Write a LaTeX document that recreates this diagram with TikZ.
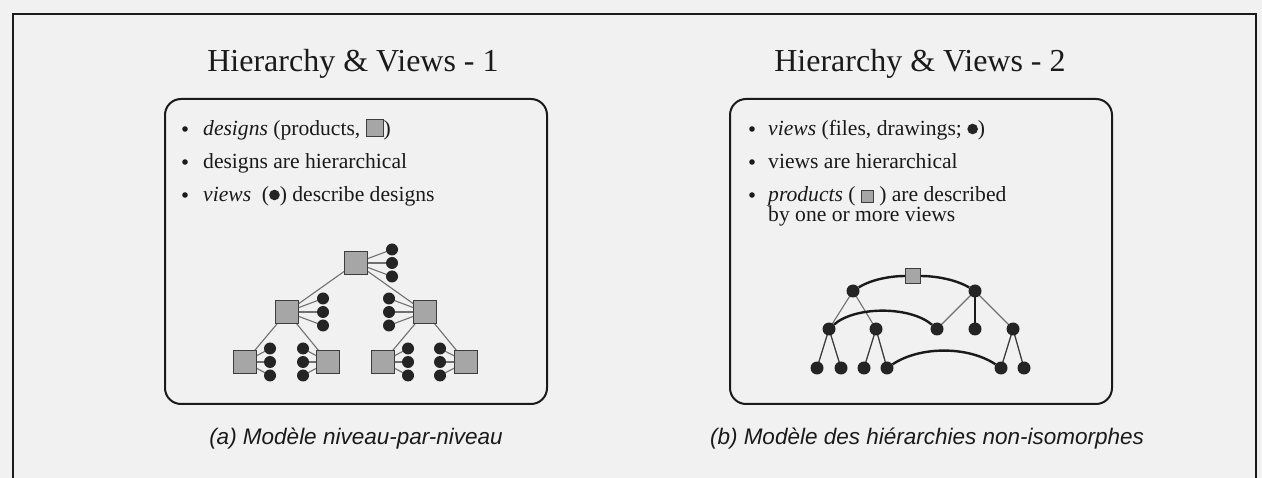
\documentclass[tikz,border=0pt]{standalone}
\usepackage{fontspec}
\setmainfont{Liberation Serif}
\newfontfamily\capfont{Liberation Sans}
\pgfdeclarelayer{paperlayer}
\pgfdeclarelayer{edgelayer}
\pgfsetlayers{paperlayer,edgelayer,main}

\definecolor{paper}{HTML}{F1F1F1}
\definecolor{sqfill}{HTML}{A6A6A6}
\definecolor{sqline}{HTML}{3C3C3C}
\definecolor{dotfill}{HTML}{242424}
\definecolor{edgegray}{HTML}{707070}
\definecolor{ink}{HTML}{1A1A1A}

% inline glyphs used in the bullet texts
\newcommand{\prodmark}[1]{\tikz[baseline=0pt,x=1pt,y=1pt]\draw[sqline,fill=sqfill,line width=0.9pt] (0,0) rectangle (#1,#1);}
\newcommand{\viewmark}{\tikz[baseline=0pt,x=1pt,y=1pt]\fill[dotfill] (0,7) circle (5.3);}

\tikzset{
  frame/.style={draw=ink,line width=2pt},
  panel/.style={draw=ink,line width=2pt,rounded corners=16pt},
  title/.style={font=\fontsize{32}{38}\selectfont,anchor=base,inner sep=0pt,text=ink},
  item/.style={font=\fontsize{21.6}{26}\selectfont,anchor=base west,inner sep=0pt,text=ink},
  bulletdot/.style={circle,fill=ink,minimum size=5.6pt,inner sep=0pt},
  caption/.style={font=\capfont\itshape\fontsize{22.5}{27}\selectfont,anchor=base,inner sep=0pt,text=ink},
  design/.style={rectangle,draw=sqline,fill=sqfill,line width=1pt,minimum size=23pt,inner sep=0pt},
  smalldesign/.style={rectangle,draw=sqline,fill=sqfill,line width=1pt,minimum size=15pt,inner sep=0pt},
  view/.style={circle,fill=dotfill,minimum size=12pt,inner sep=0pt},
  bigview/.style={circle,fill=dotfill,minimum size=13pt,inner sep=0pt},
  link/.style={draw=edgegray,line width=1.1pt},
  darklink/.style={draw=ink!85,line width=1.3pt},
  strong/.style={draw=ink,line width=2pt},
  arcline/.style={draw=ink,line width=2.4pt},
}

\begin{document}
\begin{tikzpicture}[x=1pt,y=-1pt]
\useasboundingbox (0,0) rectangle (1262,478);
\begin{pgfonlayer}{paperlayer}
  \fill[paper] (0,0) rectangle (1262,478);
\end{pgfonlayer}

% outer frame (open at the bottom)
\draw[frame] (13,478) -- (13,14) -- (1256,14) -- (1256,478);

% ---------- left panel ----------
\node[title] (t1) at (353,72) {Hierarchy \& Views - 1};
\draw[panel] (165,99) rectangle (547,404);

\node[bulletdot] (b11) at (185,129) {};
\node[item] (i11) at (203,136) {\textit{designs} (products, \prodmark{17})};
\node[bulletdot] (b12) at (185,162) {};
\node[item] (i12) at (203,169) {designs are hierarchical};
\node[bulletdot] (b13) at (185,195) {};
\node[item] (i13) at (203,202) {\textit{views}\ \ (\viewmark) describe designs};

% design hierarchy with attached views
\node[design] (s0) at (356,263) {};
\node[design] (sl) at (287,312) {};
\node[design] (sr) at (425,312) {};
\node[design] (sa) at (245,362) {};
\node[design] (sb) at (328,362) {};
\node[design] (sc) at (383,362) {};
\node[design] (sd) at (466,362) {};

\foreach \n/\x/\y in {s0/392/263, sl/323/312, sr/389/312, sa/270/362, sb/303/362, sc/408/362, sd/440/362}{
  \node[view] (\n-1) at (\x,\y-13.5) {};
  \node[view] (\n-2) at (\x,\y) {};
  \node[view] (\n-3) at (\x,\y+13.5) {};
}

\begin{pgfonlayer}{edgelayer}
  \foreach \p/\c in {s0/sl, s0/sr, sl/sa, sl/sb, sr/sc, sr/sd}
    \draw[link] (\p.center) -- (\c.center);
  \foreach \n in {s0,sl,sr,sa,sb,sc,sd}
    \foreach \k in {1,2,3}
      \draw[link] (\n.center) -- (\n-\k.center);
\end{pgfonlayer}

\node[caption] (c1) at (356,445) {(a) Modèle niveau-par-niveau};

% ---------- right panel ----------
\node[title] (t2) at (920,72) {Hierarchy \& Views - 2};
\draw[panel] (730,99) rectangle (1112,404);

\node[bulletdot] (b21) at (752,129) {};
\node[item] (i21) at (768,136) {\textit{views} (files, drawings; \viewmark)};
\node[bulletdot] (b22) at (752,162) {};
\node[item] (i22) at (768,169) {views are hierarchical};
\node[bulletdot] (b23) at (752,195) {};
\node[item] (i23) at (768,202) {\textit{products} ( \prodmark{12} ) are described};
\node[item] (i24) at (768,222) {by one or more views};

% view hierarchy with products spanning views
\node[smalldesign] (P) at (913,276) {};
\node[bigview] (A) at (853,291) {};
\node[bigview] (B) at (975,291) {};
\node[bigview] (C) at (829,329) {};
\node[bigview] (D) at (876,329) {};
\node[bigview] (E) at (937,329) {};
\node[bigview] (F) at (975,329) {};
\node[bigview] (G) at (1013,329) {};
\node[bigview] (c1a) at (817,368) {};
\node[bigview] (c1b) at (841,368) {};
\node[bigview] (d1a) at (864,368) {};
\node[bigview] (d1b) at (887,368) {};
\node[bigview] (g1a) at (1001,368) {};
\node[bigview] (g1b) at (1024,368) {};

\begin{pgfonlayer}{edgelayer}
  \foreach \p/\c in {A/C, A/D, B/E, B/G}
    \draw[link] (\p.center) -- (\c.center);
  \draw[strong] (B.center) -- (F.center);
  \foreach \p/\c in {C/c1a, C/c1b, D/d1a, D/d1b, G/g1a, G/g1b}
    \draw[darklink] (\p.center) -- (\c.center);
\end{pgfonlayer}

\draw[arcline] (A) .. controls (872,279) and (892,276) .. (P);
\draw[arcline] (P) .. controls (934,276) and (955,279) .. (B);
\draw[arcline] (C) .. controls (855,306) and (910,306) .. (E);
\draw[arcline] (d1b) .. controls (920,346) and (968,346) .. (g1a);

\node[caption] (c2) at (927,445) {(b) Modèle des hiérarchies non-isomorphes};
\end{tikzpicture}
\end{document}
